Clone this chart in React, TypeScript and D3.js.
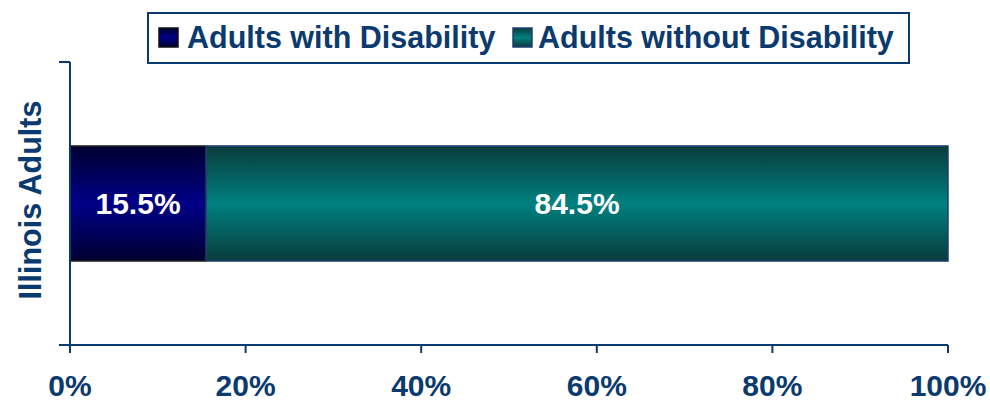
import React from "react";
import * as d3 from "d3";

const categories = ["Illinois Adults"];
const seriesNames = ["Adults with Disability", "Adults without Disability"];
const withDisability = [15.5];
const withoutDisability = [84.5];
const xTicks = [0, 20, 40, 60, 80, 100];

const W = 990, H = 402;
const axisColor = "#0a3a6e";
const textColor = "#0a3a6e";
const font = "'Liberation Sans', Arial, sans-serif";

export default function App() {
  const x = d3.scaleLinear().domain([0, 100]).range([70, 948]);
  const y = d3.scaleBand().domain(categories).range([62, 345]).paddingInner(0).paddingOuter(0.73);
  const stack = d3.stack<any>().keys(["a", "b"])(
    categories.map((c, i) => ({ c, a: withDisability[i], b: withoutDisability[i] }))
  );
  const fills = ["url(#gNavy)", "url(#gTeal)"];
  const strokes = ["#222", "#1f3f70"];
  const bw = y.bandwidth();
  return (
    <svg width={W} height={H} style={{ position: "absolute", left: 0, top: 0 }}>
      <defs>
        <linearGradient id="gNavy" x1="0" y1="0" x2="0" y2="1">
          <stop offset="0" stopColor="#000030" />
          <stop offset="0.5" stopColor="#000088" />
          <stop offset="1" stopColor="#000030" />
        </linearGradient>
        <linearGradient id="gTeal" x1="0" y1="0" x2="0" y2="1">
          <stop offset="0" stopColor="#0a3b3b" />
          <stop offset="0.5" stopColor="#008080" />
          <stop offset="1" stopColor="#0a3b3b" />
        </linearGradient>
      </defs>
      <rect width={W} height={H} fill="#fff" />
      {/* legend */}
      <rect x={148} y={13} width={761} height={50} fill="#fff" stroke={axisColor} strokeWidth={2} />
      <rect x={159} y={28} width={19} height={19} fill="url(#gNavy)" stroke="#111" strokeWidth={1.5} />
      <text x={187} y={48} fontFamily={font} fontWeight="bold" fontSize={30.5} fill={textColor}>{seriesNames[0]}</text>
      <rect x={513} y={28} width={19} height={19} fill="url(#gTeal)" stroke="#1f3f70" strokeWidth={1.5} />
      <text x={538} y={48} fontFamily={font} fontWeight="bold" fontSize={30.5} fill={textColor}>{seriesNames[1]}</text>
      {/* bars */}
      {stack.map((s, si) =>
        s.map((d, i) => (
          <g key={si + "-" + i}>
            <rect x={x(d[0])} y={y(categories[i])!} width={x(d[1]) - x(d[0])} height={bw}
              fill={fills[si]} stroke={strokes[si]} strokeWidth={1.5} />
            <text x={(x(d[0]) + x(d[1])) / 2} y={y(categories[i])! + bw / 2 + 10.5} textAnchor="middle"
              fontFamily={font} fontWeight="bold" fontSize={30} fill="#fff">
              {(si === 0 ? withDisability[i] : withoutDisability[i]).toFixed(1)}%
            </text>
          </g>
        ))
      )}
      {/* axes */}
      <line x1={70} x2={70} y1={62} y2={345} stroke={axisColor} strokeWidth={2} />
      <line x1={59} x2={70} y1={62} y2={62} stroke={axisColor} strokeWidth={2} />
      <line x1={59} x2={948} y1={345} y2={345} stroke={axisColor} strokeWidth={2} />
      {xTicks.map((t) => (
        <g key={t}>
          <line x1={x(t)} x2={x(t)} y1={345} y2={353} stroke={axisColor} strokeWidth={2} />
          <text x={x(t)} y={396} textAnchor="middle" fontFamily={font} fontWeight="bold" fontSize={30} fill={textColor}>{t}%</text>
        </g>
      ))}
      <text transform="translate(41,200) rotate(-90)" textAnchor="middle" fontFamily={font} fontWeight="bold" fontSize={30.5} fill={textColor}>
        {categories[0]}
      </text>
    </svg>
  );
}
